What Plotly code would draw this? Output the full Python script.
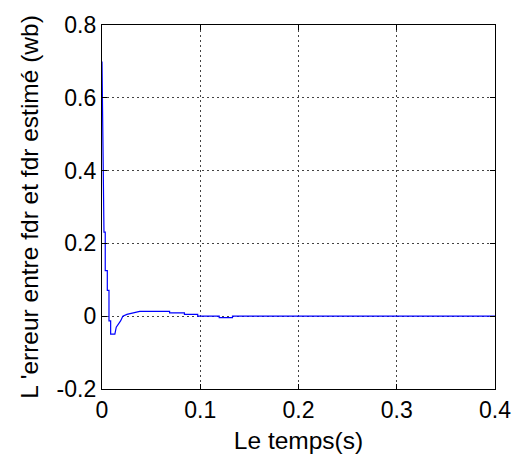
import plotly.graph_objects as go

# Data
t = [0, 0.0005, 0.001, 0.002, 0.0033, 0.0033, 0.0054, 0.0054, 0.0071, 0.0071,
     0.0088, 0.0088, 0.0131, 0.0145, 0.0189, 0.0212, 0.0253, 0.0334, 0.0384,
     0.0688, 0.0688, 0.0839, 0.0839, 0.0974, 0.0974, 0.1193, 0.1193, 0.1328,
     0.1328, 0.4]
err = [0.70, 0.55, 0.40, 0.231, 0.231, 0.125, 0.125, 0.071, 0.071, -0.013,
       -0.013, -0.049, -0.049, -0.03, -0.013, 0.0, 0.005, 0.009, 0.013,
       0.013, 0.009, 0.009, 0.005, 0.005, 0.0, 0.0, -0.004, -0.004,
       0.0, 0.0]

x_ticks = [0, 0.1, 0.2, 0.3, 0.4]
x_labels = ["0", "0.1", "0.2", "0.3", "0.4"]
y_ticks = [-0.2, 0, 0.2, 0.4, 0.6, 0.8]
y_labels = ["-0.2", "0", "0.2", "0.4", "0.6", "0.8"]

FONT = "Arial, Liberation Sans, sans-serif"

fig = go.Figure()
fig.add_trace(go.Scatter(x=t, y=err, mode="lines",
                         line=dict(color="#0000ff", width=1.2),
                         showlegend=False))

axis_common = dict(
    showline=True, linecolor="black", linewidth=1.3, mirror="ticks",
    ticks="inside", ticklen=5, tickcolor="black",
    showgrid=True, gridcolor="#444444", gridwidth=1, griddash="2px,3px",
    zeroline=False,
    tickfont=dict(family=FONT, size=23, color="black"),
)

fig.update_xaxes(range=[0, 0.4], tickvals=x_ticks, ticktext=x_labels,
                 title=dict(text="Le temps(s)", font=dict(family=FONT, size=24.5, color="black"),
                            standoff=10),
                 **axis_common)
fig.update_yaxes(range=[-0.2, 0.8], tickvals=y_ticks, ticktext=y_labels,
                 title=dict(text="L 'erreur entre fdr et fdr estimé (wb)",
                            font=dict(family=FONT, size=24.5, color="black"), standoff=11),
                 **axis_common)

fig.update_layout(
    width=523, height=462,
    margin=dict(l=102, r=26, t=16, b=70),
    plot_bgcolor="white", paper_bgcolor="white",
)

fig.write_html("out.html")
